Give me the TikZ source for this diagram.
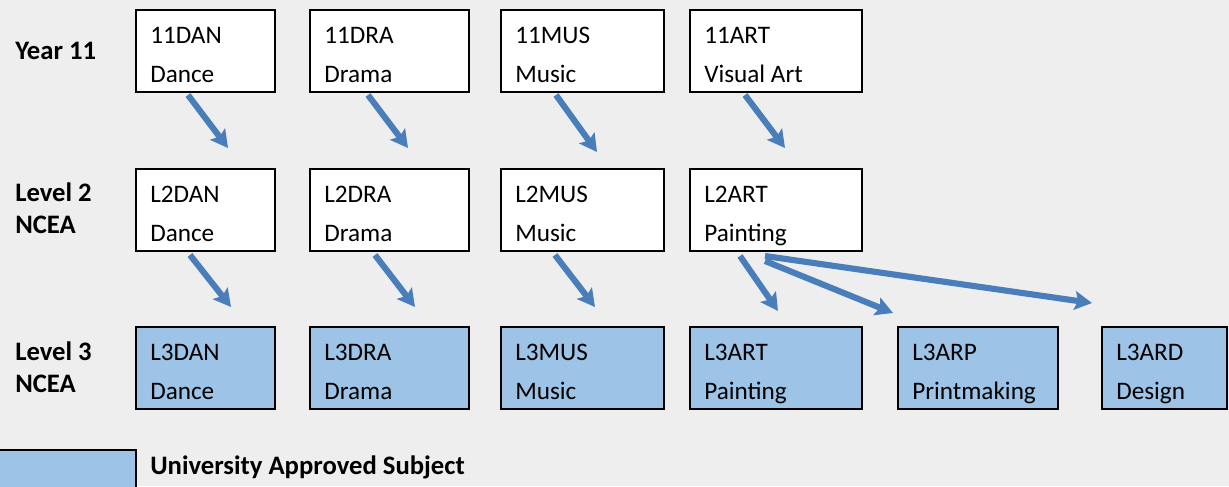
\documentclass[tikz,border=0pt]{standalone}
\usepackage{fontspec}
\setmainfont{Carlito}
\usetikzlibrary{arrows.meta,calc}
\definecolor{bg}{HTML}{EEEEEE}
\definecolor{uni}{HTML}{9DC3E6}
\definecolor{arr}{HTML}{4A7EBB}
\newcommand\subj[7]{%
  \node[#5,minimum width=#4*0.75pt,minimum height=82*0.75pt] (#1) at (#2,#3) {};
  \node[txt] (#1a) at ($(#1.north west)+(15,34)$) {#6};
  \node[txt] (#1b) at ($(#1.north west)+(15,73)$) {#7};
}
\begin{document}
\begin{tikzpicture}[x=0.75pt,y=-0.75pt,
  box/.style={draw=black,line width=1.5pt,fill=white,anchor=north west,inner sep=0pt},
  ubox/.style={box,fill=uni},
  txt/.style={anchor=base west,inner sep=0pt,font=\fontsize{18.9}{22}\selectfont},
  lbl/.style={anchor=base west,inner sep=0pt,font=\fontsize{20}{24}\selectfont\bfseries},
  flow/.style={draw=arr,line width=4.6pt,-{Stealth[length=13pt,width=14pt,inset=2.5pt]}}]
\fill[bg] (0,0) rectangle (1229,486);
\useasboundingbox (0,0) rectangle (1229,486);
% row labels
\node[lbl] (y11) at (15,59) {Year 11};
\node[lbl] (l2a) at (15,201) {Level 2};
\node[lbl] (l2b) at (15,233) {NCEA};
\node[lbl] (l3a) at (15,360) {Level 3};
\node[lbl] (l3b) at (15,392) {NCEA};
% row 1
\subj{d1}{135}{9}{139}{box}{11DAN}{Dance}
\subj{r1}{309}{9}{159}{box}{11DRA}{Drama}
\subj{m1}{500}{9}{163}{box}{11MUS}{Music}
\subj{a1}{689}{9}{172}{box}{11ART}{Visual Art}
% row 2
\subj{d2}{135}{168}{139}{box}{L2DAN}{Dance}
\subj{r2}{309}{168}{159}{box}{L2DRA}{Drama}
\subj{m2}{500}{168}{163}{box}{L2MUS}{Music}
\subj{a2}{689}{168}{172}{box}{L2ART}{Painting}
% row 3
\subj{d3}{135}{326}{139}{ubox}{L3DAN}{Dance}
\subj{r3}{309}{326}{159}{ubox}{L3DRA}{Drama}
\subj{m3}{500}{326}{163}{ubox}{L3MUS}{Music}
\subj{a3}{689}{326}{172}{ubox}{L3ART}{Painting}
\subj{p3}{897}{326}{160}{ubox}{L3ARP}{Printmaking}
\subj{g3}{1101}{326}{125}{ubox}{L3ARD}{Design}
% arrows row 1 -> row 2
\draw[flow] ($(d1.south west)+(53,2)$) -- ($(d2.north west)+(93,-20)$);
\draw[flow] ($(r1.south west)+(59,2)$) -- ($(r2.north west)+(99,-20)$);
\draw[flow] ($(m1.south west)+(56,2)$) -- ($(m2.north west)+(97,-16)$);
\draw[flow] ($(a1.south west)+(56,2)$) -- ($(a2.north west)+(96,-20)$);
% arrows row 2 -> row 3
\draw[flow] ($(d2.south west)+(55,3)$) -- ($(d3.north west)+(96,-19)$);
\draw[flow] ($(r2.south west)+(66,3)$) -- ($(r3.north west)+(106,-19)$);
\draw[flow] ($(m2.south west)+(55,3)$) -- ($(m3.north west)+(95,-19)$);
\draw[flow] ($(a2.south west)+(51,4)$) -- ($(a3.north west)+(89,-15)$);
\draw[flow] ($(a2.south west)+(76,9)$) -- ($(p3.north west)+(-4,-13)$);
\draw[flow] ($(a2.south west)+(76,4)$) -- ($(g3.north west)+(-9,-23)$);
% legend
\node[box,fill=uni,minimum width=142*0.75pt,minimum height=50*0.75pt] (key) at (-7,449) {};
\node[lbl] (keytxt) at (150,474) {University Approved Subject};
\end{tikzpicture}
\end{document}
